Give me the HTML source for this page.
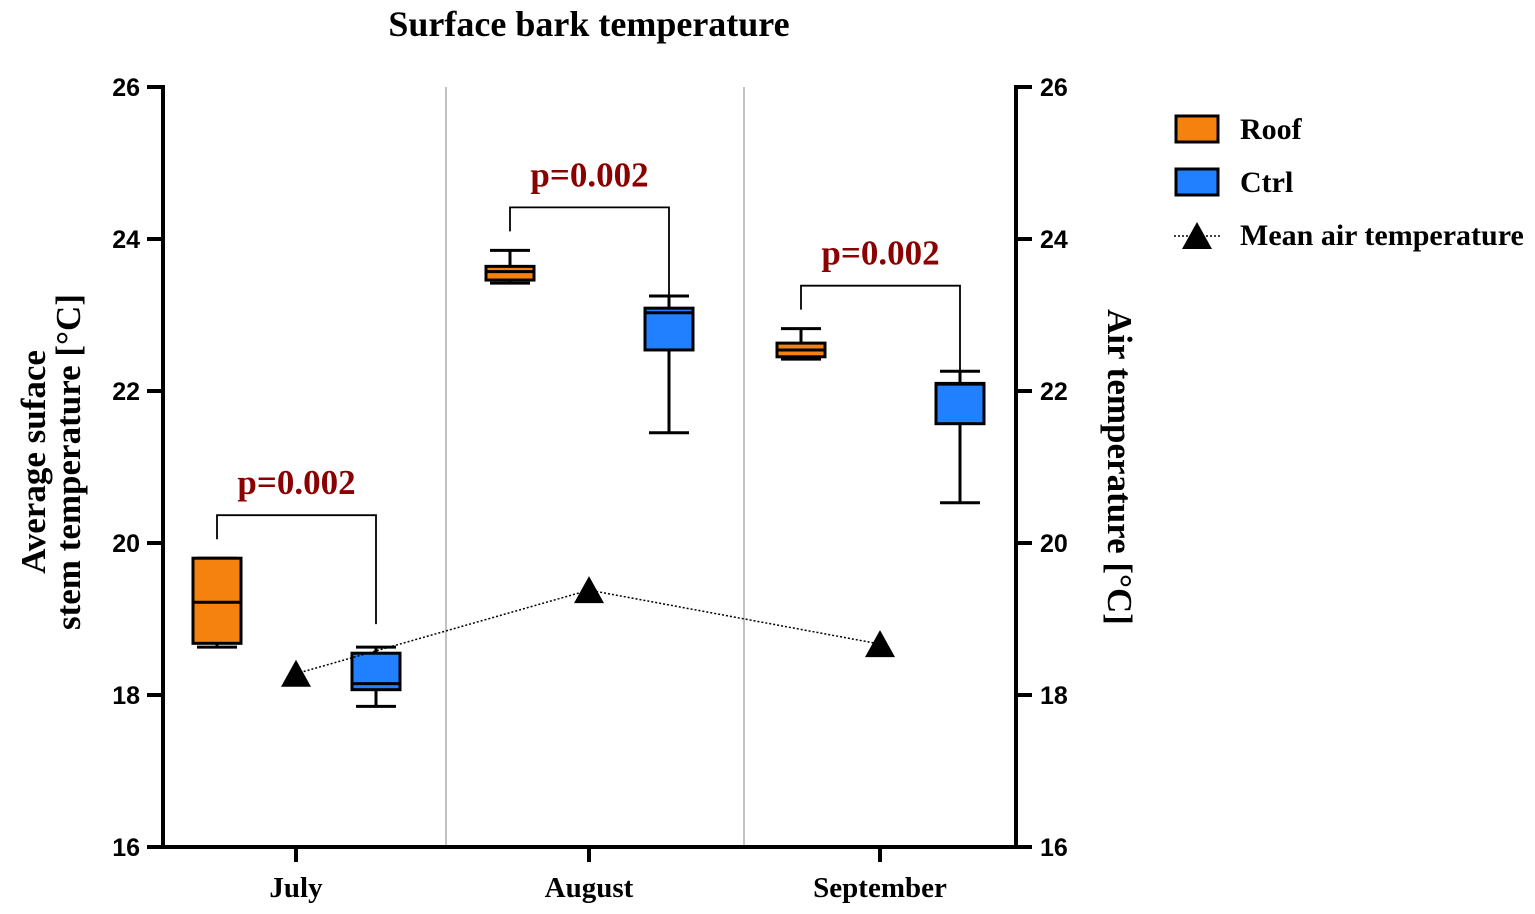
<!DOCTYPE html>
<html><head><meta charset="utf-8"><style>
body{margin:0;background:#fff}
svg{display:block}
.serif{font-family:"Liberation Serif",serif;font-weight:bold}
.sans{font-family:"Liberation Sans",sans-serif;font-weight:bold}
</style></head><body>
<svg id="chart" width="1535" height="914" viewBox="0 0 1535 914">
<g id="g"></g>
</svg>
<script>
const months=["July","August","September"];
const roofMin=[18.63,23.42,22.42], roofQ1=[18.68,23.46,22.45], roofMed=[19.22,23.57,22.54], roofQ3=[19.8,23.64,22.63], roofMax=[19.8,23.85,22.82];
const ctrlMin=[17.85,21.45,20.53], ctrlQ1=[18.07,22.54,21.57], ctrlMed=[18.15,23.03,22.09], ctrlQ3=[18.55,23.09,22.1], ctrlMax=[18.63,23.25,22.26];
const airTemp=[18.28,19.38,18.67];
const pValues=["p=0.002","p=0.002","p=0.002"];
const yTicks=[16,18,20,22,24,26];

const NS="http://www.w3.org/2000/svg";
const g=document.getElementById('g');
const y=v=>847-(v-16)*76;
const xc=[296,589,880];
function el(t,a,txt){const e=document.createElementNS(NS,t);for(const k in a)e.setAttribute(k,a[k]);if(txt!==undefined)e.textContent=txt;g.appendChild(e);return e;}

[446,744].forEach((sx,i)=>{const e=el('line',{x1:sx,x2:sx,y1:87,y2:847,stroke:'#999','stroke-width':1.2});

});

let a=el('line',{x1:163,x2:163,y1:85,y2:849,stroke:'#000','stroke-width':4});

a=el('line',{x1:1016,x2:1016,y1:85,y2:849,stroke:'#000','stroke-width':4});

a=el('line',{x1:161,x2:1018,y1:847,y2:847,stroke:'#000','stroke-width':4});


yTicks.forEach(t=>{
  el('line',{x1:147,x2:163,y1:y(t),y2:y(t),stroke:'#000','stroke-width':4});
  el('line',{x1:1016,x2:1032,y1:y(t),y2:y(t),stroke:'#000','stroke-width':4});
  let l=el('text',{x:140,y:y(t)+9,'text-anchor':'end','font-size':25,class:'sans'},t);
  
  l=el('text',{x:1040,y:y(t)+9,'text-anchor':'start','font-size':25,class:'sans'},t);
  
});

months.forEach((m,i)=>{
  el('line',{x1:xc[i],x2:xc[i],y1:847,y2:862,stroke:'#000','stroke-width':4});
  const l=el('text',{x:xc[i],y:897,'text-anchor':'middle','font-size':29,class:'serif'},m);
  
});

function box(cx,mn,q1,md,q3,mx,fill,name,medColor){
  const w=48,h=20;
  const s={stroke:'#000','stroke-width':3};
  el('line',{x1:cx,x2:cx,y1:y(mx),y2:y(q3),...s});
  el('line',{x1:cx,x2:cx,y1:y(q1),y2:y(mn),...s});
  el('line',{x1:cx-h,x2:cx+h,y1:y(mx),y2:y(mx),...s});
  el('line',{x1:cx-h,x2:cx+h,y1:y(mn),y2:y(mn),...s});
  const r=el('rect',{x:cx-w/2,y:y(q3),width:w,height:Math.max(1,y(q1)-y(q3)),fill:fill,...s});
  
  
  el('line',{x1:cx-w/2,x2:cx+w/2,y1:y(md),y2:y(md),stroke:medColor,'stroke-width':3});
}
months.forEach((m,i)=>{
  box(xc[i]-79,roofMin[i],roofQ1[i],roofMed[i],roofQ3[i],roofMax[i],'#F5820F','roof-box-'+i,'#000');
  box(xc[i]+80,ctrlMin[i],ctrlQ1[i],ctrlMed[i],ctrlQ3[i],ctrlMax[i],'#2080FF','ctrl-box-'+i,'#000');
  const lx=xc[i]-79, rx=xc[i]+80;
  const by=y(roofMax[i])-43;
  const b=el('path',{d:`M${lx},${y(roofMax[i])-19} V${by} H${rx} V${y(ctrlMax[i])-(i==0?23:0)}`,fill:'none',stroke:'#000','stroke-width':1.8});
  
  
  const p=el('text',{x:(lx+rx)/2,y:by-21,'text-anchor':'middle','font-size':35,fill:'#8B0000',class:'serif'},pValues[i]);
  
  
});

const pts=airTemp.map((v,i)=>xc[i]+','+y(v)).join(' ');
const pl=el('polyline',{points:pts,fill:'none',stroke:'#000','stroke-width':1.5,'stroke-dasharray':'2,2'});


airTemp.forEach((v,i)=>{
  const cy=y(v);
  const t=el('polygon',{points:`${xc[i]},${cy-14} ${xc[i]-15},${cy+13} ${xc[i]+15},${cy+13}`,fill:'#000'});
  
  
});

let t=el('text',{x:589,y:36,'text-anchor':'middle','font-size':36,class:'serif'},'Surface bark temperature');

t=el('text',{transform:'translate(45,462) rotate(-90)','text-anchor':'middle','font-size':35,class:'serif'},'Average suface');

t=el('text',{transform:'translate(80,462) rotate(-90)','text-anchor':'middle','font-size':35,class:'serif'},'stem temperature  [°C]');

t=el('text',{transform:'translate(1108,467) rotate(90)','text-anchor':'middle','font-size':35,class:'serif'},'Air temperature  [°C]');


let r=el('rect',{x:1176,y:116,width:42,height:26,fill:'#F5820F',stroke:'#000','stroke-width':3});

t=el('text',{x:1240,y:139,'font-size':30,class:'serif'},'Roof');

r=el('rect',{x:1176,y:169,width:42,height:26,fill:'#2080FF',stroke:'#000','stroke-width':3});

t=el('text',{x:1240,y:192,'font-size':30,class:'serif'},'Ctrl');

el('line',{x1:1174,x2:1220,y1:236,y2:236,stroke:'#000','stroke-width':1.5,'stroke-dasharray':'2,2'});
el('polygon',{points:'1197,222 1182,249 1212,249',fill:'#000'});
t=el('text',{x:1240,y:245,'font-size':30,class:'serif'},'Mean air temperature');

</script>
</body></html>
